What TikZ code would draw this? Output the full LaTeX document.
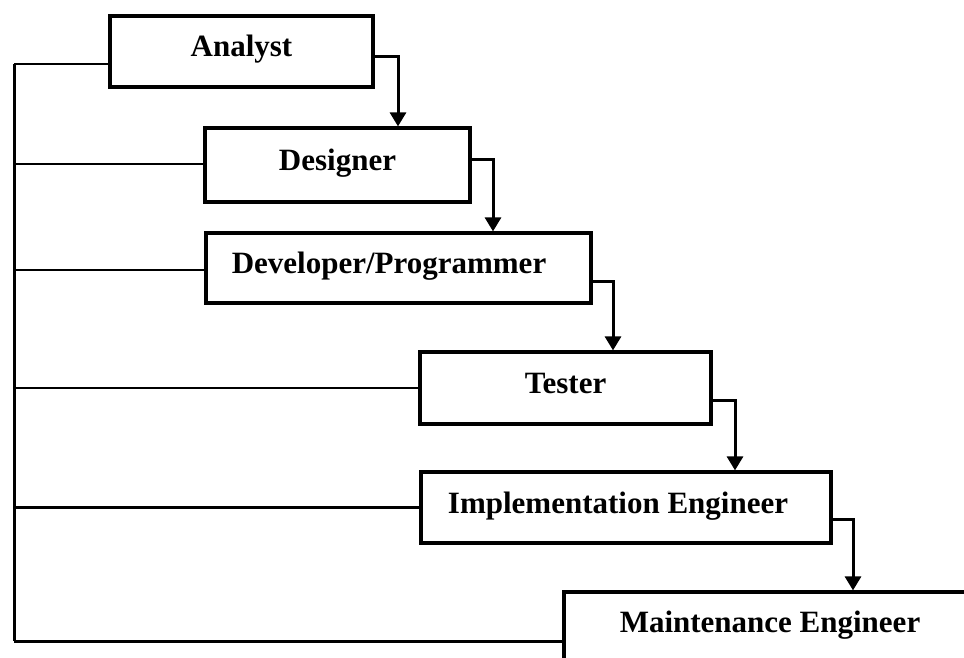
\documentclass[tikz,border=0pt]{standalone}
\usepackage{fontspec}
\setmainfont{Liberation Serif}
\usetikzlibrary{arrows.meta}
\begin{document}
\begin{tikzpicture}[x=1pt,y=-1pt,
  role/.style={draw, line width=3.2pt, rectangle, inner sep=0pt,
    font=\fontsize{31}{36}\selectfont\bfseries,
    text height=20.5pt, text depth=9.5pt},
  flow/.style={line width=3pt, -{Triangle[width=16pt,length=14pt]}},
  branch/.style={line width=2.2pt},
  trunk/.style={line width=3pt}]
  \useasboundingbox (0,0) rectangle (964,658);
  \clip (0,0) rectangle (964,658);

  % role boxes
  \node[role, minimum width=263pt, minimum height=71pt] (A) at (241.5,51.5) {Analyst};
  \node[role, minimum width=265pt, minimum height=74pt] (D) at (337.5,165) {Designer};
  \node[role, minimum width=385pt, minimum height=70pt] (P) at (398.5,268) {Developer/Programmer\hspace*{19pt}};
  \node[role, minimum width=291pt, minimum height=72pt] (T) at (565.5,388) {Tester};
  \node[role, minimum width=410pt, minimum height=71pt] (I) at (626,507.5) {Implementation Engineer\hspace*{16pt}};
  \node[role, minimum width=412pt, minimum height=70pt] (M) at (770,627) {Maintenance Engineer};

  % common line on the left joining every role
  \coordinate (top) at (14,64);
  \coordinate (bot) at (14,641);
  \draw[trunk] (top) -- (bot);
  \draw[branch] ([yshift=-12.5pt]A.west) -- (top);
  \draw[branch] ([yshift=1pt]D.west) -- ([yshift=1pt]D.west -| top);
  \draw[branch] ([yshift=-2pt]P.west) -- ([yshift=-2pt]P.west -| top);
  \draw[branch] (T.west) -- (T.west -| top);
  \draw[branch] (I.west) -- (I.west -| top);
  \draw[trunk] ([yshift=-14pt]M.west) -- (bot);

  % hand-over arrows down the cascade
  \draw[flow] ([yshift=-5.5pt]A.east) -| ([xshift=60.5pt]D.north);
  \draw[flow] ([yshift=5pt]D.east) -| ([xshift=94.5pt]P.north);
  \draw[flow] ([yshift=-13pt]P.east) -| ([xshift=47.5pt]T.north);
  \draw[flow] ([yshift=-12pt]T.east) -| ([xshift=109pt]I.north);
  \draw[flow] ([yshift=-11.5pt]I.east) -| ([xshift=83pt]M.north);
\end{tikzpicture}
\end{document}
